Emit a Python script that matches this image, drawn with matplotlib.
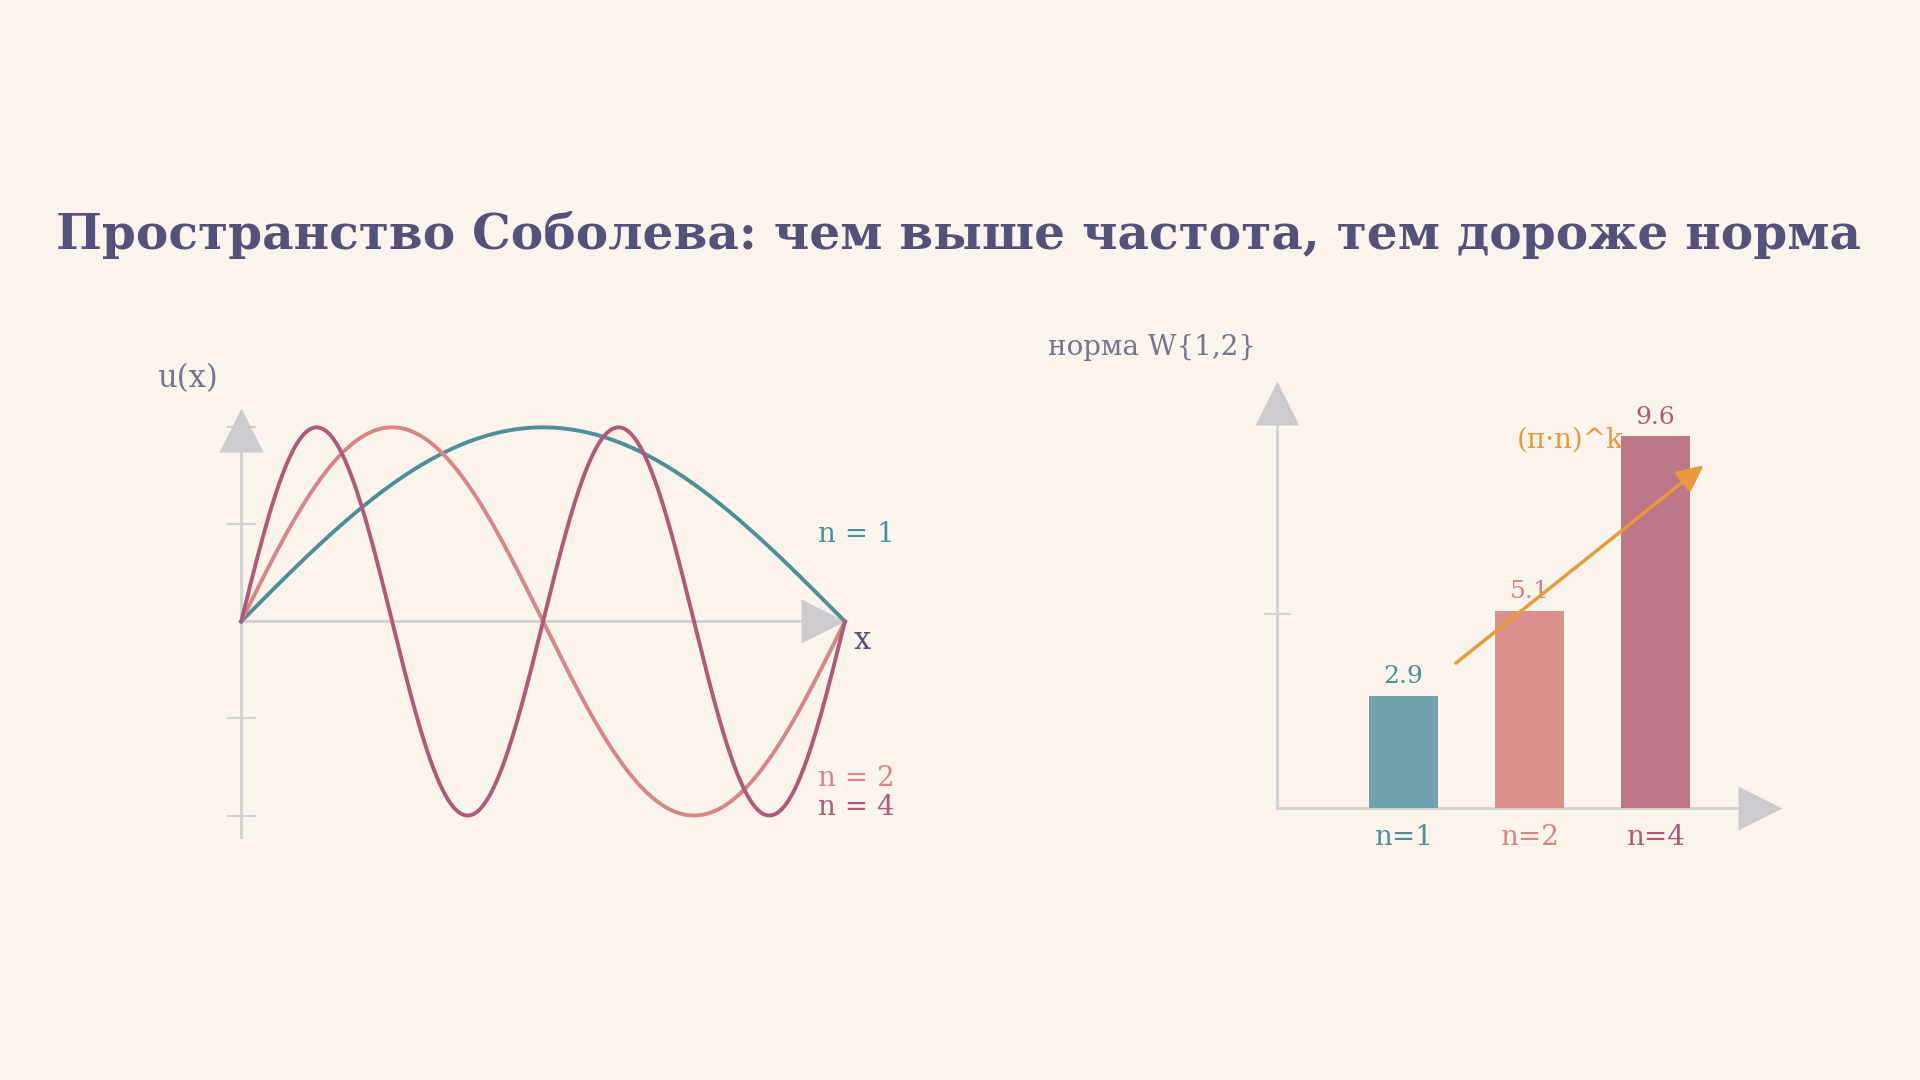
import numpy as np
import matplotlib
matplotlib.use("Agg")
import matplotlib.pyplot as plt

modes = [1, 2, 4]
mode_labels = ["n = 1", "n = 2", "n = 4"]
bar_labels = ["n=1", "n=2", "n=4"]
norms = [2.9, 5.1, 9.6]
line_colors = ["#4f8f9a", "#d98583", "#b05a78"]
bar_colors = ["#72a3ac", "#dc908d", "#be7689"]
BG = "#faf4ed"; AX = "#d2d0d0"; HEAD = "#cdcbcf"; TITLE = "#55527a"; ORANGE = "#eb9a3a"
W, H = 1568, 882
SER = ["DejaVu Serif"]

fig = plt.figure(figsize=(19.2, 10.8), dpi=100, facecolor=BG)

def place(x0, y0, x1, y1):
    return [x0 / W, 1 - y1 / H, (x1 - x0) / W, (y1 - y0) / H]

fig.text(783 / W, 1 - 192 / H, "Пространство Соболева: чем выше частота, тем дороже норма",
         ha="center", va="center", fontsize=35, fontweight="bold", color=TITLE, family=SER)

# left axes: x 0..1 -> 197..690, y -1..1 -> 666..349
ax = fig.add_axes(place(197, 349, 690, 666))
ax.set_xlim(0, 1); ax.set_ylim(-1, 1); ax.axis("off"); ax.set_facecolor("none")
ax.plot([0, 0.97], [0, 0], color=AX, lw=2, clip_on=False, zorder=1)
ax.plot([0, 0], [-1.11, 0.97], color=AX, lw=2, clip_on=False, zorder=1)
for t in [1, 0.5, -0.5, -1]:
    ax.plot([-0.022, 0.022], [t, t], color=AX, lw=1.5, clip_on=False, zorder=1)
ax.plot([0.963], [0], marker=">", ms=32, color=HEAD, mec="none", clip_on=False, zorder=1)
ax.plot([0], [0.985], marker="^", ms=32, color=HEAD, mec="none", clip_on=False, zorder=1)
x = np.linspace(0, 1, 600)
for n, c in zip(modes, line_colors):
    ax.plot(x, np.sin(n * np.pi * x), color=c, lw=2.8, clip_on=False, zorder=3)
ypos = [0.45, -0.81, -0.96]
for lab, c, yy in zip(mode_labels, line_colors, ypos):
    ax.text(0.955, yy, lab, color=c, fontsize=20, family=SER, va="center", ha="left")
ax.text(1.015, -0.1, "x", color=TITLE, fontsize=22, family=SER, va="center")
ax.text(-0.14, 1.25, "u(x)", color="#77748f", fontsize=22, family=SER, va="center")

# right axes: x -1..3 -> 1043..1455, y 0..11 -> 660..312
bx = fig.add_axes(place(1043, 312, 1455, 660))
bx.set_xlim(-1, 3); bx.set_ylim(0, 11); bx.axis("off")
bx.plot([-1, 2.7], [0, 0], color=AX, lw=2, clip_on=False, zorder=1)
bx.plot([-1, -1], [0, 10.3], color=AX, lw=2, clip_on=False, zorder=1)
bx.plot([-1.1, -0.9], [5, 5], color=AX, lw=1.5, clip_on=False)
bx.plot([2.83], [0], marker=">", ms=32, color=HEAD, mec="none", clip_on=False)
bx.plot([-1], [10.45], marker="^", ms=32, color=HEAD, mec="none", clip_on=False)
pos = np.arange(len(norms))
bx.bar(pos, norms, width=0.55, color=bar_colors, zorder=2)
for p, v, c, l in zip(pos, norms, line_colors, bar_labels):
    bx.text(p, v + 0.2, f"{v}", ha="center", va="bottom", color=c, fontsize=18, family=SER)
    bx.text(p, -0.75, l, ha="center", va="center", color=c, fontsize=20, family=SER)
bx.annotate("", xy=(2.4, 8.9), xytext=(0.4, 3.7),
            arrowprops=dict(arrowstyle="-|>,head_length=1.6,head_width=0.75", color=ORANGE, lw=2.5))
bx.text(0.9, 9.5, "(π·n)^k", color=ORANGE, fontsize=20, family=SER, va="center")
bx.text(-2.82, 11.9, "норма W{1,2}", color="#77748f", fontsize=20, family=SER, va="center")

fig.savefig("out.png", dpi=100, facecolor=BG)
